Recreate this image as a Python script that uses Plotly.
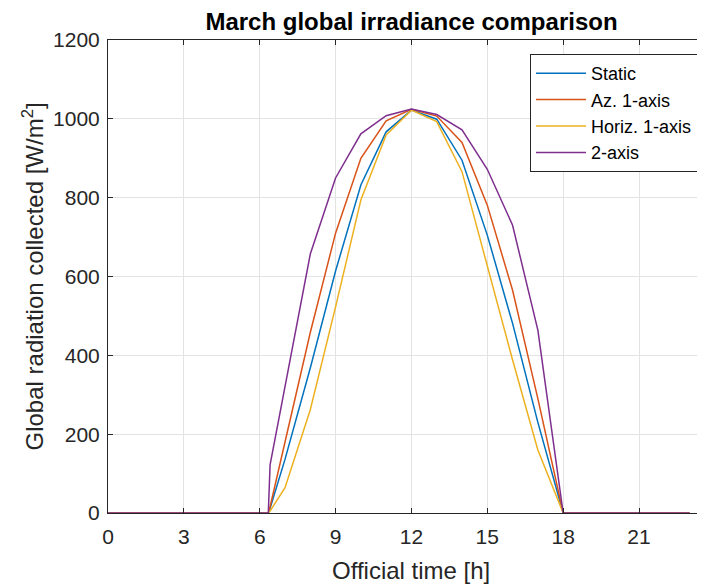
import plotly.graph_objects as go

# Official time [h]
hours = [0, 1, 2, 3, 4, 5, 6, 6.34, 6.41, 7, 8, 9, 10, 11, 12, 13, 14, 15, 16, 17, 18, 19, 20, 21, 22, 23]

static = [0, 0, 0, 0, 0, 0, 0, 0, 12, 136, 368, 614, 832, 967, 1022, 999, 895, 705, 481, 230, 0, 0, 0, 0, 0, 0]
az_1axis = [0, 0, 0, 0, 0, 0, 0, 0, 16, 178, 458, 710, 900, 995, 1024, 1007, 940, 781, 565, 290, 0, 0, 0, 0, 0, 0]
horiz_1axis = [0, 0, 0, 0, 0, 0, 0, 0, 5, 64, 262, 523, 794, 959, 1022, 993, 866, 625, 388, 160, 0, 0, 0, 0, 0, 0]
two_axis = [0, 0, 0, 0, 0, 0, 0, 0, 122, 322, 657, 850, 962, 1008, 1025, 1011, 972, 872, 730, 464, 0, 0, 0, 0, 0, 0]

series_names = ["Static", "Az. 1-axis", "Horiz. 1-axis", "2-axis"]
series_values = [static, az_1axis, horiz_1axis, two_axis]
series_colors = ["#0072BD", "#D95319", "#EDB120", "#7E2F8E"]

x_ticks = [0, 3, 6, 9, 12, 15, 18, 21]
y_ticks = [0, 200, 400, 600, 800, 1000, 1200]

FONT = "Liberation Sans, Arial, Helvetica, sans-serif"
AX = "#262626"

fig = go.Figure()
for name, vals, col in zip(series_names, series_values, series_colors):
    fig.add_trace(go.Scatter(x=hours, y=vals, mode="lines", name=name,
                             line=dict(color=col, width=1.5)))

# the page body adds an 8px offset; figure coords = screen coords - 8
W, H = 705, 587
L, R, T, B = 100, 0, 32, 82
pw = W - L - R
ph = H - T - B

fig.update_layout(
    width=W, height=H,
    margin=dict(l=L, r=R, t=T, b=B, pad=0),
    paper_bgcolor="white", plot_bgcolor="white",
    font=dict(family=FONT, color=AX, size=21),
    title=dict(text="<b>March global irradiance comparison</b>",
               x=(403.5 - L) / pw, xref="paper", xanchor="center",
               y=1 - 14 / H, yref="container", yanchor="middle",
               font=dict(size=24, color="black", family=FONT)),
    showlegend=True,
    legend=dict(x=(690 - L) / pw, xanchor="right", y=(505 - 46) / ph,
                yanchor="top", bgcolor="white", bordercolor=AX, borderwidth=1,
                font=dict(size=18, color="black", family=FONT),
                itemwidth=50, tracegroupgap=0),
    xaxis=dict(range=[0, pw / 25.286], tickvals=x_ticks, ticktext=[str(v) for v in x_ticks],
               showgrid=True, gridcolor="#e3e3e3", gridwidth=1,
               zeroline=False, showline=True, linecolor=AX, linewidth=1,
               mirror="ticks", ticks="inside", ticklen=5, tickcolor=AX,
               ticklabelstandoff=5,
               tickfont=dict(size=21, color=AX, family=FONT)),
    yaxis=dict(range=[0, 1200], tickvals=y_ticks, ticktext=[str(v) for v in y_ticks],
               showgrid=True, gridcolor="#e3e3e3", gridwidth=1,
               zeroline=False, showline=True, linecolor=AX, linewidth=1,
               mirror=False, ticks="inside", ticklen=5, tickcolor=AX,
               ticklabelstandoff=3,
               tickfont=dict(size=21, color=AX, family=FONT)),
    annotations=[
        dict(text="Official time [h]", xref="paper", yref="paper",
             x=(403.5 - L) / pw, y=(505 - 562) / ph, xanchor="center", yanchor="middle",
             showarrow=False, font=dict(size=24, color=AX, family=FONT)),
        dict(text="Global radiation collected [W/m<sup>2</sup>]", xref="paper", yref="paper",
             x=(24 - L) / pw, y=0.5, xanchor="center", yanchor="middle", textangle=-90,
             showarrow=False, font=dict(size=24, color=AX, family=FONT)),
    ],
)

fig.write_html("out.html")
